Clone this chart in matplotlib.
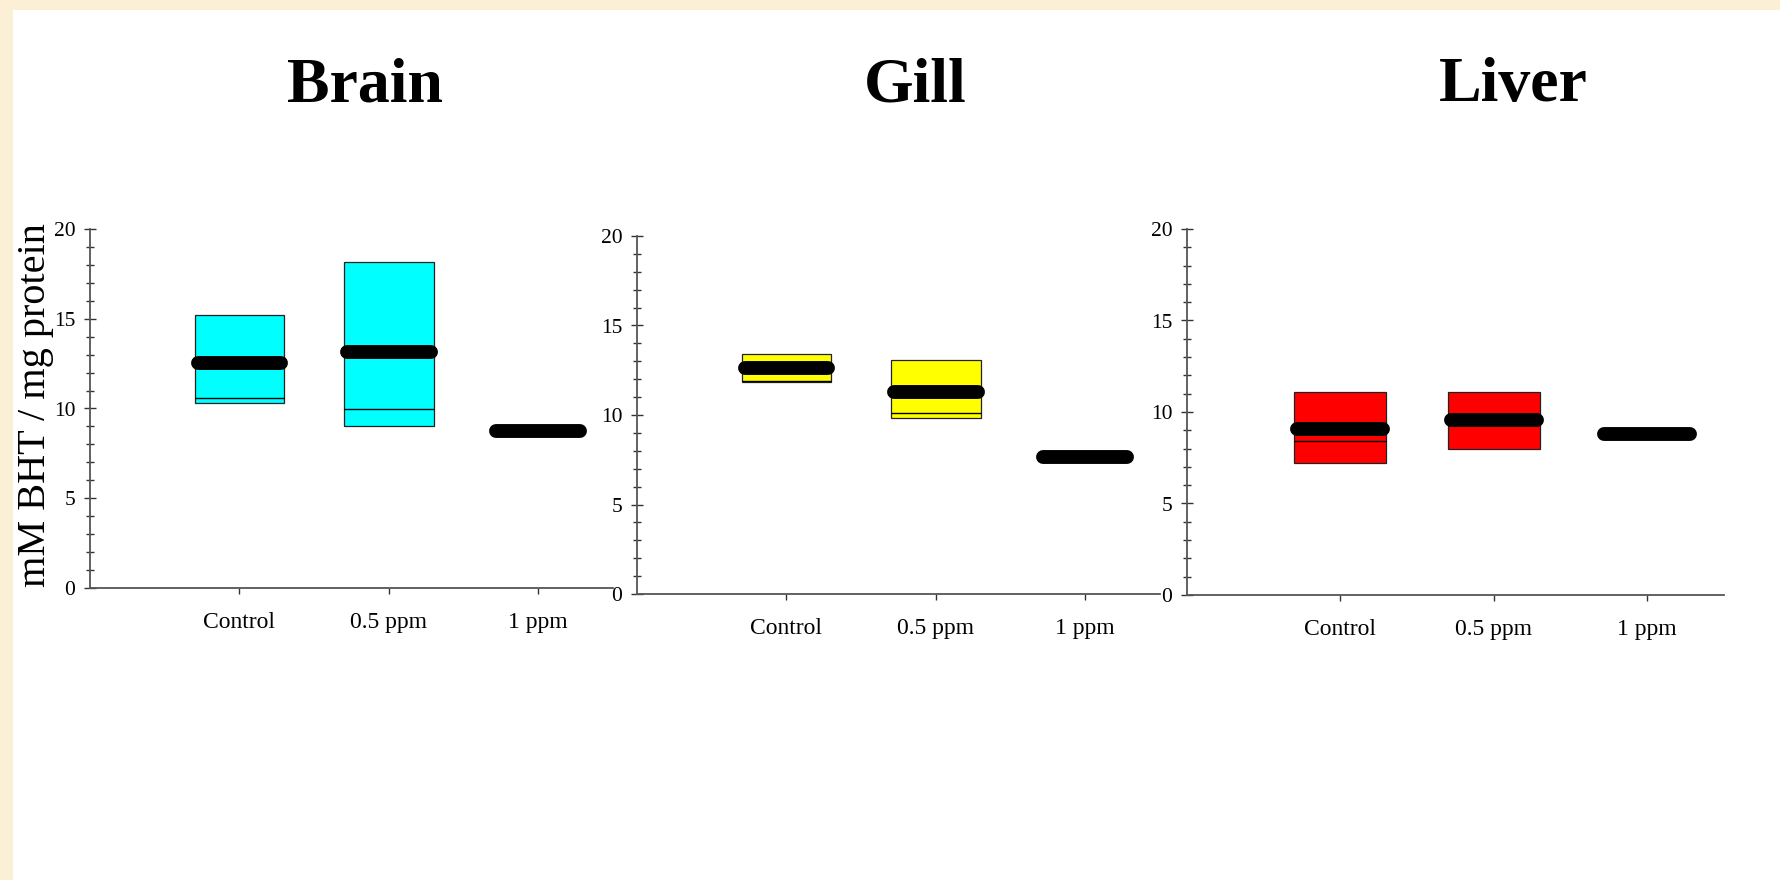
import numpy as np
import matplotlib
matplotlib.use("Agg")
import matplotlib.pyplot as plt
from matplotlib.patches import Rectangle
from matplotlib.ticker import MultipleLocator

plt.rcParams["font.family"] = ["Liberation Serif", "DejaVu Serif"]

groups = ["Control", "0.5 ppm", "1 ppm"]
tissues = ["Brain", "Gill", "Liver"]
box_colors = ["#00FFFF", "#FFFF00", "#FF0000"]

# box = 25th..75th percentile, thin line = median, thick line = mean
brain_q1 = [10.3, 9.0, np.nan]
brain_q3 = [15.2, 18.15, np.nan]
brain_median = [10.57, 9.95, np.nan]
brain_mean = [12.52, 13.17, 8.75]

gill_q1 = [11.85, 9.83, np.nan]
gill_q3 = [13.39, 13.06, np.nan]
gill_median = [11.9, 10.1, np.nan]
gill_mean = [12.63, 11.31, 7.64]

liver_q1 = [7.24, 7.97, np.nan]
liver_q3 = [11.08, 11.11, np.nan]
liver_median = [8.41, 9.57, np.nan]
liver_mean = [9.08, 9.57, 8.8]

panel_data = [
    (brain_q1, brain_q3, brain_median, brain_mean),
    (gill_q1, gill_q3, gill_median, gill_mean),
    (liver_q1, liver_q3, liver_median, liver_mean),
]

W, H = 1780, 880
fig = plt.figure(figsize=(W / 100, H / 100), dpi=100)
fig.patch.set_facecolor("#FBEFD6")
fig.add_artist(Rectangle((13 / W, 0), 1, 1 - 10 / H, transform=fig.transFigure,
                         facecolor="white", edgecolor="none", zorder=0))

# axes rectangles in pixels: (x0, y_zero, x_end, y_twenty)
rects_px = [
    (90, 588, 613, 229),
    (637, 594, 1160, 236),
    (1187, 595, 1724, 229),
]
title_x = [365, 915, 1513]

x = np.arange(1, len(groups) + 1)
box_w = 0.6
mean_half = 0.28

for i, (tissue, color, data, (x0, yb, x1, yt)) in enumerate(
        zip(tissues, box_colors, panel_data, rects_px)):
    q1, q3, med, mean = [np.array(d, dtype=float) for d in data]
    ax = fig.add_axes([x0 / W, 1 - yb / H, (x1 - x0) / W, (yb - yt) / H])
    ax.set_facecolor("none")

    has_box = ~np.isnan(q1)
    ax.bar(x[has_box], (q3 - q1)[has_box], bottom=q1[has_box], width=box_w,
           color=color, edgecolor="#222222", linewidth=0.9, zorder=2)
    ax.hlines(med[has_box], x[has_box] - box_w / 2, x[has_box] + box_w / 2,
              color="black", linewidth=1.0, zorder=3)
    for xi, m in zip(x, mean):
        ax.plot([xi - mean_half, xi + mean_half], [m, m], color="black",
                linewidth=10, solid_capstyle="round", zorder=4)

    ax.set_xlim(0, 3.5)
    ax.set_ylim(0, 20)
    ax.set_xticks(x)
    ax.set_xticklabels(groups, fontsize=17)
    ax.yaxis.set_major_locator(MultipleLocator(5))
    ax.yaxis.set_minor_locator(MultipleLocator(1))
    ax.tick_params(axis="y", which="major", direction="inout", length=9,
                   width=1, labelsize=15.5, pad=6, color="#333333")
    ax.tick_params(axis="y", which="minor", direction="inout", length=5.5,
                   width=1, color="#333333")
    ax.tick_params(axis="x", direction="out", length=4.5, width=1, pad=13,
                   color="#333333")
    for side in ("top", "right"):
        ax.spines[side].set_visible(False)
    for side in ("left", "bottom"):
        ax.spines[side].set_color("#555555")
        ax.spines[side].set_linewidth(1.3)

    fig.text(title_x[i] / W, 1 - 86 / H, tissue, fontsize=46,
             fontweight="bold", ha="center", va="center")

fig.text(36 / W, 1 - 405 / H, "mM BHT / mg protein", fontsize=29,
         rotation=90, ha="center", va="center")

fig.savefig("out.png", dpi=100, facecolor=fig.get_facecolor())
plt.close(fig)
